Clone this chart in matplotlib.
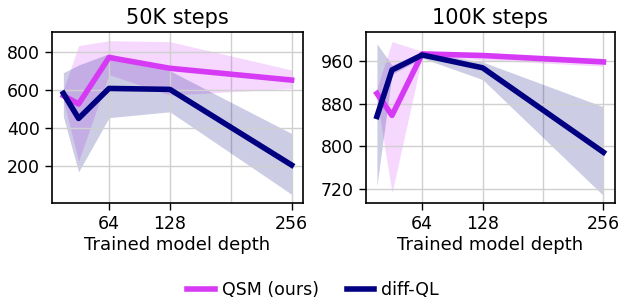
import numpy as np
import matplotlib
matplotlib.use('Agg')
import matplotlib.pyplot as plt

# Trained model depth
depths = [16, 32, 64, 128, 256]

# 50K steps
qsm_50k = [569, 525, 770, 713, 651]
qsm_50k_lo = [545, 225, 680, 572, 607]
qsm_50k_hi = [600, 832, 858, 853, 704]
dql_50k = [581, 449, 607, 602, 204]
dql_50k_lo = [458, 168, 453, 484, 50]
dql_50k_hi = [690, 730, 790, 700, 370]

# 100K steps
qsm_100k = [899, 858, 973, 970, 958]
qsm_100k_lo = [890, 713, 968, 962, 950]
qsm_100k_hi = [908, 996, 978, 976, 965]
dql_100k = [856, 943, 971, 947, 789]
dql_100k_lo = [726, 935, 965, 925, 708]
dql_100k_hi = [992, 952, 976, 958, 874]

QSM_COLOR = '#d63af5'
DQL_COLOR = '#000080'

fig = plt.figure(figsize=(6.26, 2.99), dpi=100)
ax1 = fig.add_axes([0.083, 0.321, 0.401, 0.572])
ax2 = fig.add_axes([0.584, 0.321, 0.398, 0.572])

panels = [
    (ax1, '50K steps', qsm_50k, qsm_50k_lo, qsm_50k_hi, dql_50k, dql_50k_lo, dql_50k_hi,
     (4, 904), [200, 400, 600, 800]),
    (ax2, '100K steps', qsm_100k, qsm_100k_lo, qsm_100k_hi, dql_100k, dql_100k_lo, dql_100k_hi,
     (694, 1014), [720, 800, 880, 960]),
]

for ax, title, q, qlo, qhi, d, dlo, dhi, ylim, yticks in panels:
    ax.fill_between(depths, qlo, qhi, color=QSM_COLOR, alpha=0.2, linewidth=0)
    ax.fill_between(depths, dlo, dhi, color=DQL_COLOR, alpha=0.2, linewidth=0)
    ax.plot(depths, q, color=QSM_COLOR, lw=4, label='QSM (ours)', zorder=3)
    ax.plot(depths, d, color=DQL_COLOR, lw=4, label='diff-QL', zorder=3)
    ax.set_title(title, fontsize=15)
    ax.set_xlim(4, 268)
    ax.set_ylim(*ylim)
    ax.set_xticks([64, 128, 256])
    ax.set_yticks(yticks)
    ax.grid(True, color='#d0d0d0', lw=1)
    ax.set_xlabel('Trained model depth', fontsize=13, labelpad=2)
    ax.tick_params(labelsize=12.5, length=5, width=1)
    for s in ax.spines.values():
        s.set_linewidth(1.2)
    # unlabelled vertical grid line at 192
    ax.axvline(192, color='#d0d0d0', lw=1, zorder=0)

handles, labels = ax1.get_legend_handles_labels()
fig.legend(handles, labels, loc='center', bbox_to_anchor=(0.5, 0.03), ncol=2,
           frameon=False, fontsize=12.5, handlelength=1.6, handletextpad=0.4,
           columnspacing=1.6)

fig.savefig('out.png', dpi=100)
